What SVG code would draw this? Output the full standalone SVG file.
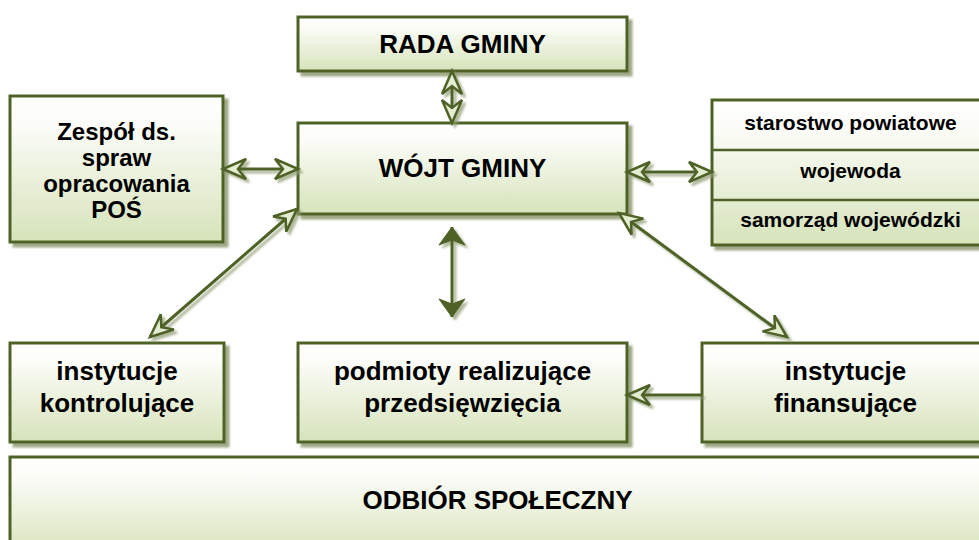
<svg xmlns="http://www.w3.org/2000/svg" width="979" height="540" viewBox="0 0 979 540">
<defs>
<linearGradient id="g" x1="0" y1="0" x2="0" y2="1">
<stop offset="0" stop-color="#FFFFFF"/>
<stop offset="0.2" stop-color="#FBFCF7"/>
<stop offset="1" stop-color="#D6E3BA"/>
</linearGradient>
<linearGradient id="ga" x1="0" y1="0" x2="1" y2="0">
<stop offset="0" stop-color="#D6E3BA"/>
<stop offset="1" stop-color="#FFFFFF"/>
</linearGradient>
<filter id="sh" x="-10%" y="-10%" width="130%" height="140%">
<feDropShadow dx="4" dy="4" stdDeviation="0.8" flood-color="#8E9A70" flood-opacity="0.85"/>
</filter>
<filter id="ash" x="-30%" y="-30%" width="160%" height="160%">
<feDropShadow dx="3" dy="3" stdDeviation="0.8" flood-color="#8E9A70" flood-opacity="0.7"/>
</filter>
<marker id="open" markerUnits="userSpaceOnUse" orient="auto-start-reverse" markerWidth="40" markerHeight="30" viewBox="-30 -15 40 30" refX="0" refY="0" overflow="visible">
<path d="M0,0 L-23,-10 L-15,0 L-23,10 Z" fill="#E4ECD2" stroke="#4F6228" stroke-width="2.5" stroke-linejoin="miter"/>
</marker>
<marker id="solid" markerUnits="userSpaceOnUse" orient="auto-start-reverse" markerWidth="40" markerHeight="30" viewBox="-30 -15 40 30" refX="0" refY="0" overflow="visible">
<path d="M0,0 L-18,-13 L-13,0 L-18,13 Z" fill="#4F6228" stroke="#4F6228" stroke-width="1"/>
</marker>
</defs>
<style>
.box{fill:url(#g);stroke:#4F6228;stroke-width:3;filter:url(#sh);}
.div{stroke:#4F6228;stroke-width:2.5;}
.t{font-family:"Liberation Sans",Arial,sans-serif;font-weight:bold;fill:#000;text-anchor:middle;}
.c{fill:none;stroke:#4F6228;stroke-width:3;}
.o{marker-start:url(#open);marker-end:url(#open);}
</style>

<g id="rada">
<rect class="box" x="298" y="17" width="329" height="54"/>
<text class="t" x="462.5" y="53" font-size="26">RADA GMINY</text>
</g>

<g id="wojt">
<rect class="box" x="298" y="123" width="329" height="91"/>
<text class="t" x="462.5" y="177" font-size="26">WÓJT GMINY</text>
</g>

<g id="zespol">
<rect class="box" x="10" y="96" width="213" height="146"/>
<text class="t" x="116.5" y="140" font-size="24">Zespół ds.</text>
<text class="t" x="116.5" y="166" font-size="24">spraw</text>
<text class="t" x="116.5" y="192" font-size="24">opracowania</text>
<text class="t" x="116.5" y="218" font-size="24">POŚ</text>
</g>

<g id="organy">
<rect class="box" x="712" y="100" width="277" height="145"/>
<line class="div" x1="712" y1="150" x2="989" y2="150"/>
<line class="div" x1="712" y1="200" x2="989" y2="200"/>
<text class="t" x="850.5" y="130" font-size="21">starostwo powiatowe</text>
<text class="t" x="850.5" y="178" font-size="21">wojewoda</text>
<text class="t" x="850.5" y="227" font-size="21">samorząd wojewódzki</text>
</g>

<g id="kontrolujace">
<rect class="box" x="10" y="343" width="214" height="99"/>
<text class="t" x="117" y="380" font-size="26">instytucje</text>
<text class="t" x="117" y="412" font-size="26">kontrolujące</text>
</g>

<g id="podmioty">
<rect class="box" x="298" y="343" width="329" height="99"/>
<text class="t" x="462.5" y="380" font-size="26">podmioty realizujące</text>
<text class="t" x="462.5" y="412" font-size="26">przedsięwzięcia</text>
</g>

<g id="finansujace">
<rect class="box" x="702" y="343" width="287" height="99"/>
<text class="t" x="845.5" y="380" font-size="26">instytucje</text>
<text class="t" x="845.5" y="412" font-size="26">finansujące</text>
</g>

<g id="odbior">
<rect class="box" x="10" y="457" width="975" height="100"/>
<text class="t" x="497.5" y="509" font-size="26">ODBIÓR SPOŁECZNY</text>
</g>

<g id="connectors" filter="url(#ash)">
<line class="c o" x1="452" y1="71" x2="452" y2="123"/>
<line class="c o" x1="223" y1="169" x2="298" y2="169"/>
<line class="c o" x1="627" y1="172" x2="712" y2="172"/>
<line class="c o" x1="297" y1="209" x2="150" y2="337"/>
<line class="c o" x1="619" y1="213" x2="787" y2="337"/>
<line class="c" x1="702" y1="395" x2="627" y2="395" marker-end="url(#open)"/>
<line class="c" x1="452" y1="227" x2="452" y2="317" marker-start="url(#solid)" marker-end="url(#solid)"/>
</g>
</svg>
